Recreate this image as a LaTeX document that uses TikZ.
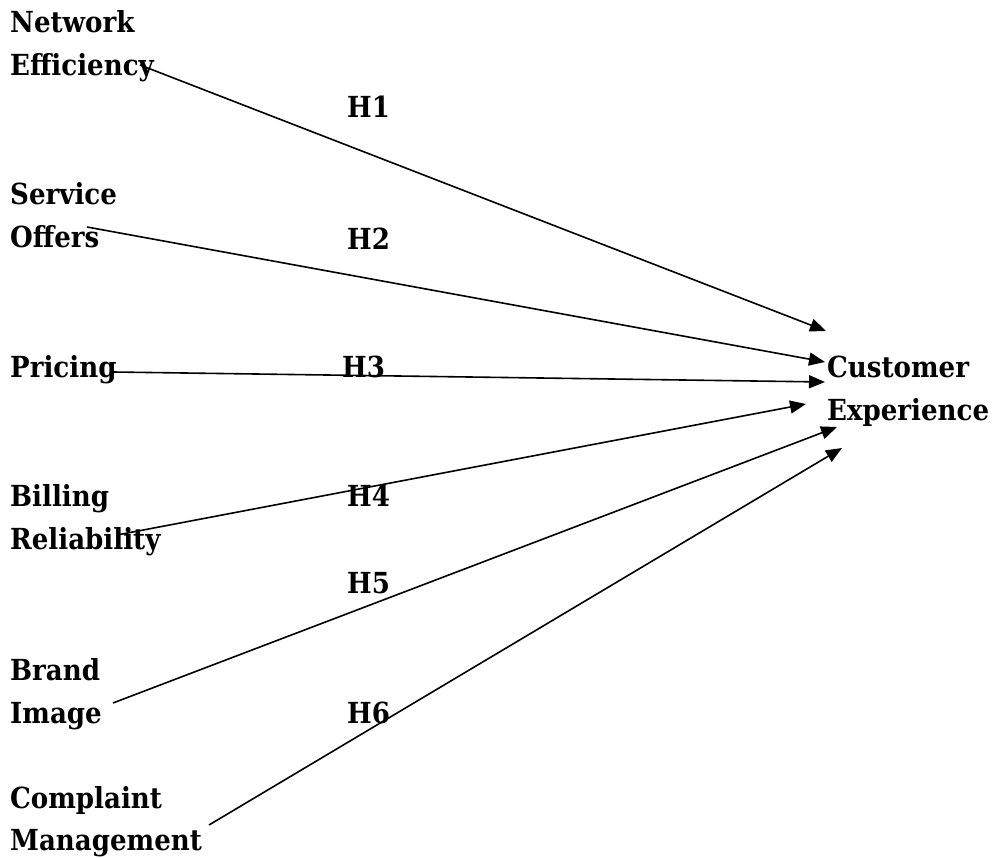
\documentclass[tikz,border=0pt]{standalone}
\usepackage{fontspec}
\setmainfont{DejaVu Serif Condensed}
\usetikzlibrary{arrows.meta}
\begin{document}
\begin{tikzpicture}[x=1pt,y=-1pt,
  lbl/.style={anchor=base west, inner sep=0pt, font=\fontsize{29}{34}\selectfont\bfseries},
  link/.style={line width=1.6pt, -{Triangle[length=16pt,width=13pt]}}]
\useasboundingbox (0,0) rectangle (994,858);
% factor labels
\node[lbl] (ne1) at (10,33) {Network};
\node[lbl] (ne2) at (10,76) {Efficiency};
\node[lbl] (so1) at (10,205) {Service};
\node[lbl] (so2) at (10,248) {Offers};
\node[lbl] (pr)  at (10,378) {Pricing};
\node[lbl] (br1) at (10,507) {Billing};
\node[lbl] (br2) at (10,550) {Reliability};
\node[lbl] (bi1) at (10,680) {Brand};
\node[lbl] (bi2) at (10,723) {Image};
\node[lbl] (cm1) at (10,808) {Complaint};
\node[lbl] (cm2) at (10,850) {Management};
\node[lbl] (ce1) at (827,378) {Customer};
\node[lbl] (ce2) at (827,421) {Experience};
% hypothesis labels
\node[lbl] (h1) at (347,118) {H1};
\node[lbl] (h2) at (347,250) {H2};
\node[lbl] (h3) at (342,378) {H3};
\node[lbl] (h4) at (347,507) {H4};
\node[lbl] (h5) at (347,593) {H5};
\node[lbl] (h6) at (347,723) {H6};
% connector ends
\coordinate (s1) at (140,65);  \coordinate (t1) at (826,331);
\coordinate (s2) at (87,227);  \coordinate (t2) at (825,362);
\coordinate (s3) at (113,372); \coordinate (t3) at (825,382);
\coordinate (s4) at (117,535); \coordinate (t4) at (806,404);
\coordinate (s5) at (113,703); \coordinate (t5) at (837,427);
\coordinate (s6) at (209,825); \coordinate (t6) at (842,448);
\draw[link] (s1) -- (t1);
\draw[link] (s2) -- (t2);
\draw[link] (s3) -- (t3);
\draw[link] (s4) -- (t4);
\draw[link] (s5) -- (t5);
\draw[link] (s6) -- (t6);
\end{tikzpicture}
\end{document}
